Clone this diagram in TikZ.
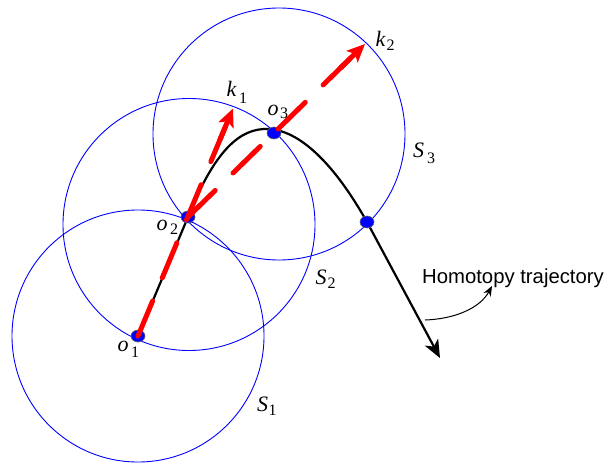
\documentclass[tikz,border=0pt]{standalone}
\usepackage{fontspec}
\setmainfont{Liberation Serif}
\newfontfamily\arialf{Liberation Sans}
\usetikzlibrary{arrows.meta,shapes.geometric,calc}
\begin{document}
\begin{tikzpicture}[x=1pt,y=-1pt,
  ring/.style={draw=blue, line width=0.9pt},
  traj/.style={line width=2.2pt, black, line cap=round},
  dot/.style={ellipse, draw=black!60, fill=blue, line width=0.6pt, minimum width=14pt, minimum height=12pt, inner sep=0pt},
  kvec/.style={red, line width=5pt, line cap=round, dash pattern=on 38pt off 25pt},
  ktip/.style={red, line width=5pt, -{Stealth[length=18pt,width=16pt,inset=4pt]}},
  mainlbl/.style={inner sep=0pt, font=\fontsize{22}{22}\selectfont\itshape},
  sublbl/.style={inner sep=0pt, font=\fontsize{16}{16}\selectfont}]
\useasboundingbox (0,0) rectangle (605,464);
% circles
\draw[ring] (138,336) circle[radius=126];
\draw[ring] (189,224.5) circle[radius=126];
\draw[ring] (279,134) circle[radius=126];
% coordinates
\coordinate (c1) at (138,336);
\coordinate (c2) at (188,217);
\coordinate (c3) at (274,133);
\coordinate (c4) at (367,222);
\coordinate (peak) at (268,129);
\coordinate (tip) at (440,358);
\coordinate (k1tip) at (233,108.5);
\coordinate (k2tip) at (365,44);
\coordinate (k1base) at ($(c1)!0.86!(k1tip)$);
\coordinate (k2base) at ($(c2)!0.86!(k2tip)$);
\coordinate (k1end) at ($(c1)!0.93!(k1tip)$);
\coordinate (k2end) at ($(c2)!0.93!(k2tip)$);
% trajectory
\draw[traj, -{Stealth[length=18pt,width=15pt,inset=5pt]}] (c1) -- (c2) .. controls (215,150) and (240,128) .. (peak) .. controls (300,130) and (335,165) .. (c4) -- (tip);
% dots
\node[dot] (o1) at (c1) {};
\node[dot] (o2) at (c2) {};
\node[dot] (o3) at (c3) {};
\node[dot] (p4) at (c4) {};
% red vectors
\draw[kvec] (o1.center) -- (k1end);
\draw[ktip] (k1base) -- (k1tip);
\draw[kvec] (o2.center) -- (k2end);
\draw[ktip] (k2base) -- (k2tip);
% labels
\node[mainlbl] (lo1) at (123,346.5) {o};
\node[sublbl] (lo1s) at (135,352) {1};
\node[mainlbl] (lo2) at (162,225) {o};
\node[sublbl] (lo2s) at (174,229.5) {2};
\node[mainlbl] (lo3) at (273,110) {o};
\node[sublbl] (lo3s) at (284,113.5) {3};
\node[mainlbl] (lk1) at (231.5,89) {k};
\node[sublbl] (lk1s) at (243,98) {1};
\node[mainlbl] (lk2) at (380.5,38.5) {k};
\node[sublbl] (lk2s) at (390.5,45.5) {2};
\node[mainlbl] (ls1) at (262.5,404.5) {S};
\node[sublbl] (ls1s) at (272.5,410.5) {1};
\node[mainlbl] (ls2) at (321,277) {S};
\node[sublbl] (ls2s) at (331.5,283.5) {2};
\node[mainlbl] (ls3) at (418.5,150) {S};
\node[sublbl] (ls3s) at (431,158) {3};
% homotopy label
\node[anchor=base west, inner sep=0pt, font=\arialf\fontsize{20.3}{20}\selectfont] (ht) at (422,283.3) {Homotopy trajectory};
\coordinate (hs) at (425,320);
\coordinate (he) at (492,286);
\draw[line width=1pt, -{Stealth[length=10pt,width=8pt,inset=3pt]}] (hs) .. controls (455,319) and (480,308) .. (he);
\end{tikzpicture}
\end{document}
